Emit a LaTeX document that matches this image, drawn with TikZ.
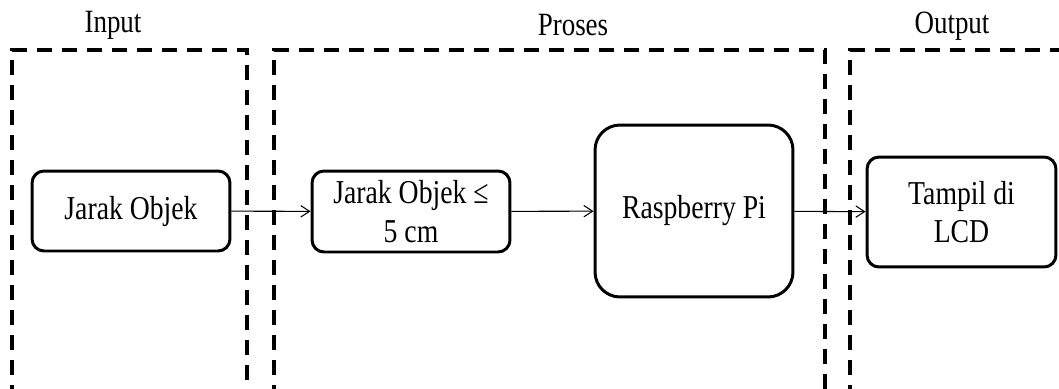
\documentclass[tikz,border=0pt]{standalone}
\usepackage{fontspec}
\setmainfont{Liberation Serif}[FakeStretch=0.83]
\usetikzlibrary{arrows.meta}
\begin{document}
\begin{tikzpicture}[x=0.02cm,y=-0.02cm,
    kotak/.style={draw,line width=1.7pt,rounded corners=0.24cm,align=center,
      font=\fontsize{19}{22}\selectfont},
    batas/.style={line width=2pt,dash pattern=on 0.3cm off 0.2cm},
    judul/.style={font=\fontsize{18.5}{20}\selectfont}]
  \clip (0,0) rectangle (1059,389);
  % the three stages
  \draw[batas] (12,400) -- (12,50) -- (247,50) -- (247,400);
  \draw[batas] (274,400) -- (274,50) -- (825,50) -- (825,400);
  \draw[batas] (850,400) -- (850,50) -- (1070,50);
  \node[judul] (input) at (113,25) {Input};
  \node[judul] (proses) at (573,25) {Proses};
  \node[judul] (output) at (952,26) {Output};
  % blocks
  \node[kotak,minimum width=3.96cm,minimum height=1.6cm] (jarak) at (131,211) {Jarak Objek};
  \node[kotak,minimum width=3.96cm,minimum height=1.62cm] (syarat) at (411,211.5) {Jarak Objek ≤\\ 5 cm};
  \node[kotak,rounded corners=0.5cm,minimum width=3.96cm,minimum height=3.44cm] (rpi) at (694,211) {Raspberry Pi};
  \node[kotak,minimum width=3.78cm,minimum height=2.2cm] (lcd) at (961.5,212) {Tampil di\\ LCD};
  \begin{scope}[-{Straight Barb[length=5pt,width=6.5pt]},line width=0.6pt]
    \draw (jarak) -- (syarat);
    \draw (syarat) -- (rpi);
    \draw (rpi) -- (lcd);
  \end{scope}
\end{tikzpicture}
\end{document}
